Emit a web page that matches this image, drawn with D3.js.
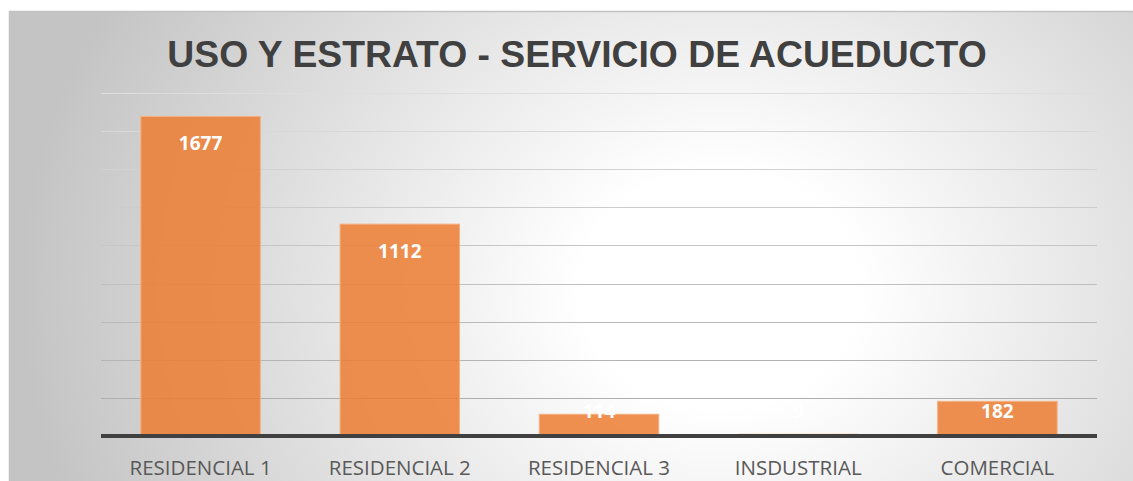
<!DOCTYPE html>
<html>
<head>
<meta charset="utf-8">
<script src="https://cdn.jsdelivr.net/npm/d3@7"></script>
<style>
  body { margin: 0; background: #fff; }
  svg { display: block; }
</style>
</head>
<body>
<div id="chart"></div>
<script>
var categories = ["RESIDENCIAL 1", "RESIDENCIAL 2", "RESIDENCIAL 3", "INSDUSTRIAL", "COMERCIAL"];
var values = [1677, 1112, 114, 9, 182];
var gridTicks = [200, 400, 600, 800, 1000, 1200, 1400, 1600, 1800];
var title = "USO Y ESTRATO - SERVICIO DE ACUEDUCTO";

var width = 1133;
var height = 481;
var plotLeft = 101, plotRight = 1097;
var plotTop = 93, baseline = 436;

var svg = d3.select("#chart")
    .append("svg")
    .attr("width", width)
    .attr("height", height);

// fondo con degradado radial
var defs = svg.append("defs");
var grad = defs.append("radialGradient")
    .attr("id", "bg")
    .attr("gradientUnits", "userSpaceOnUse")
    .attr("cx", 720).attr("cy", 290)
    .attr("r", 700)
    .attr("gradientTransform", "translate(720,290) scale(1,0.85) translate(-720,-290)");
grad.append("stop").attr("offset", "0").attr("stop-color", "#ffffff");
grad.append("stop").attr("offset", "0.2").attr("stop-color", "#ffffff");
grad.append("stop").attr("offset", "1").attr("stop-color", "#c4c4c4");

svg.append("rect")
    .attr("x", 9.5).attr("y", 11.5)
    .attr("width", width + 10).attr("height", height + 10)
    .attr("fill", "url(#bg)")
    .attr("stroke", "#c2c2c2")
    .attr("stroke-width", 1.5);

// escalas
var x = d3.scaleBand()
    .domain(categories)
    .range([plotLeft, plotRight])
    .paddingInner(0.4)
    .paddingOuter(0.2);

var y = d3.scaleLinear()
    .domain([0, 1800])
    .range([baseline, plotTop]);

// lineas de cuadricula
var gridColor = d3.scaleLinear()
    .domain([plotTop, baseline])
    .range(["#dedede", "#a8a8a8"]);

svg.append("g")
    .selectAll("line")
    .data(gridTicks)
    .enter()
    .append("line")
    .attr("x1", plotLeft)
    .attr("x2", plotRight)
    .attr("y1", d => Math.round(y(d)) + 0.5)
    .attr("y2", d => Math.round(y(d)) + 0.5)
    .attr("stroke", d => gridColor(y(d)))
    .attr("stroke-width", 1.2);

// barras
svg.append("g")
    .selectAll("rect")
    .data(values)
    .enter()
    .append("rect")
    .attr("x", (d, i) => x(categories[i]))
    .attr("y", d => y(d))
    .attr("width", x.bandwidth())
    .attr("height", d => baseline - y(d))
    .attr("fill", "#ed7d31")
    .attr("fill-opacity", 0.85)
    .attr("stroke", "#f4b183")
    .attr("stroke-width", 1);

// eje x
svg.append("line")
    .attr("x1", plotLeft)
    .attr("x2", plotRight)
    .attr("y1", baseline)
    .attr("y2", baseline)
    .attr("stroke", "#404040")
    .attr("stroke-width", 4);

svg.append("g")
    .selectAll("text")
    .data(categories)
    .enter()
    .append("text")
    .attr("x", d => x(d) + x.bandwidth() / 2)
    .attr("y", 475)
    .attr("text-anchor", "middle")
    .attr("font-family", "Open Sans, sans-serif")
    .attr("font-size", 20.5)
    .attr("fill", "#595959")
    .text(d => d);

// etiquetas de valor
svg.append("g")
    .selectAll("text")
    .data(values)
    .enter()
    .append("text")
    .attr("x", (d, i) => x(categories[i]) + x.bandwidth() / 2)
    .attr("y", d => Math.min(y(d) + 34, baseline - 18))
    .attr("text-anchor", "middle")
    .attr("font-family", "Open Sans, sans-serif")
    .attr("font-weight", "bold")
    .attr("font-size", 19)
    .attr("fill", "#ffffff")
    .text(d => d);

// titulo
svg.append("text")
    .attr("x", 577)
    .attr("y", 67)
    .attr("text-anchor", "middle")
    .attr("font-family", "Liberation Sans, Arial, sans-serif")
    .attr("font-weight", "bold")
    .attr("font-size", 37.3)
    .attr("fill", "#404040")
    .text(title);
</script>
</body>
</html>
